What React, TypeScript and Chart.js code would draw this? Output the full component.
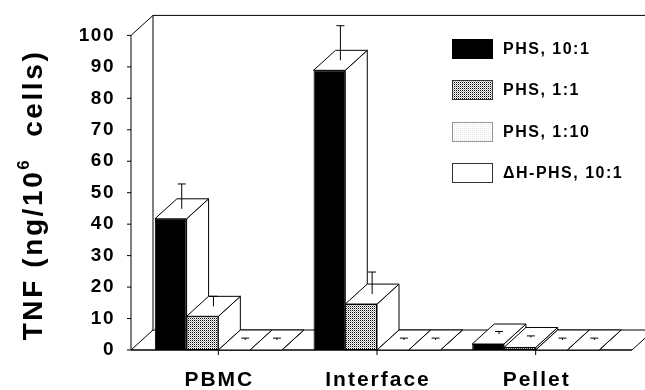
import React, { useEffect, useRef } from "react";
import { Chart, registerables } from "chart.js";

Chart.register(...registerables);

const categories = ["PBMC", "Interface", "Pellet"];
const seriesLabels = ["PHS, 10:1", "PHS, 1:1", "PHS, 1:10", "\u0394H-PHS, 10:1"];
const phs10to1 = [41.7, 88.9, 1.9];
const phs10to1Err = [7.9, 11, 0.8];
const phs1to1 = [10.7, 14.6, 0.8];
const phs1to1Err = [3.2, 7, 0.5];
const phs1to10 = [0, 0, 0];
const phs1to10Err = [0.6, 0.6, 0.6];
const dhPhs10to1 = [0, 0, 0];
const dhPhs10to1Err = [0.6, 0.6, 0.6];
const yTickValues = [0, 10, 20, 30, 40, 50, 60, 70, 80, 90, 100];
const yTitleParts = ["TNF (ng/10", "6", "  cells)"];

const FONT = '"Liberation Sans", Arial, Helvetica, sans-serif';
const DX = 22;
const DY = -20;

function makePattern(kind: "dense" | "light"): CanvasPattern | string {
  const c = document.createElement("canvas");
  c.width = 2;
  c.height = 2;
  const g = c.getContext("2d");
  if (!g) return "#888";
  g.fillStyle = "#fff";
  g.fillRect(0, 0, 2, 2);
  if (kind === "dense") {
    g.fillStyle = "#000";
    g.fillRect(0, 0, 1, 1);
    g.fillStyle = "#aaa";
    g.fillRect(1, 1, 1, 1);
  } else {
    g.fillStyle = "#e4e4e4";
    g.fillRect(0, 0, 1, 1);
  }
  const p = g.createPattern(c, "repeat");
  return p || "#888";
}

function seg(ctx: CanvasRenderingContext2D, x1: number, y1: number, x2: number, y2: number) {
  ctx.beginPath();
  ctx.moveTo(x1, y1);
  ctx.lineTo(x2, y2);
  ctx.stroke();
}

function poly(ctx: CanvasRenderingContext2D, pts: number[][]) {
  ctx.beginPath();
  ctx.moveTo(pts[0][0], pts[0][1]);
  for (let i = 1; i < pts.length; i++) ctx.lineTo(pts[i][0], pts[i][1]);
  ctx.closePath();
  ctx.fill();
  ctx.stroke();
}

export default function App() {
  const ref = useRef<HTMLCanvasElement | null>(null);

  useEffect(() => {
    if (!ref.current) return;
    const dense = makePattern("dense");
    const light = makePattern("light");
    const fills: any[] = ["#000", dense, light, "#fff"];
    const errors = [phs10to1Err, phs1to1Err, phs1to10Err, dhPhs10to1Err];

    const threeD = {
      id: "threeD",
      beforeDraw(chart: any) {
        chart.ctx.letterSpacing = "1.5px";
      },
      beforeDatasetsDraw(chart: any) {
        const { ctx, chartArea: ca } = chart;
        const y = chart.scales.y;
        const y0 = y.getPixelForValue(0);
        const yT = y.getPixelForValue(100);
        const ax = ca.left - 8;
        const fr = ca.right + 17;
        ctx.save();
        ctx.letterSpacing = "0px";
        ctx.strokeStyle = "#000";
        ctx.fillStyle = "#fff";
        ctx.lineWidth = 1;
        seg(ctx, ax + DX, y0 + DY, ax + DX, yT + DY);
        seg(ctx, ax + DX, yT + DY, chart.width, yT + DY);
        seg(ctx, ax, y0, ax, yT);
        seg(ctx, ax, yT, ax + DX, yT + DY);
        seg(ctx, ax, y0, ax + DX, y0 + DY);
        seg(ctx, ax + DX, y0 + DY, chart.width, y0 + DY);
        seg(ctx, fr, y0, fr + DX, y0 + DY);
        ctx.lineWidth = 1.6;
        seg(ctx, ax, y0, fr, y0);
        ctx.lineWidth = 1;
        y.ticks.forEach((t: any) => {
          const py = y.getPixelForValue(t.value);
          seg(ctx, ax - 4, py, ax, py);
        });
        const n = chart.data.datasets.length;
        for (let i = 0; i < categories.length; i++) {
          for (let d = 0; d < n; d++) {
            const el = chart.getDatasetMeta(d).data[i];
            const p = el.getProps(["x", "y", "base", "width"], true);
            const x0 = p.x - p.width / 2;
            const x1 = p.x + p.width / 2;
            ctx.fillStyle = "#fff";
            poly(ctx, [
              [x1, p.y],
              [x1 + DX, p.y + DY],
              [x1 + DX, p.base + DY],
              [x1, p.base],
            ]);
            poly(ctx, [
              [x0, p.y],
              [x1, p.y],
              [x1 + DX, p.y + DY],
              [x0 + DX, p.y + DY],
            ]);
          }
        }
        ctx.restore();
      },
      afterDatasetsDraw(chart: any) {
        const { ctx } = chart;
        const y = chart.scales.y;
        const x = chart.scales.x;
        const y0 = y.getPixelForValue(0);
        ctx.save();
        ctx.strokeStyle = "#000";
        ctx.lineWidth = 1;
        ctx.letterSpacing = "0px";
        chart.data.datasets.forEach((ds: any, d: number) => {
          const meta = chart.getDatasetMeta(d);
          meta.data.forEach((el: any, i: number) => {
            const p = el.getProps(["x", "y", "width"], true);
            const v = ds.data[i];
            const e = errors[d][i];
            const cx = p.x + DX / 2;
            const ys = p.y + DY / 2;
            const ye = y.getPixelForValue(v + e) + DY / 2;
            seg(ctx, cx, ys, cx, ye);
            seg(ctx, cx - 4, ye, cx + 4, ye);
          });
        });
        categories.forEach((_c, i) => {
          const px = x.getPixelForValue(i);
          seg(ctx, px, y0, px, y0 + 5);
        });
        ctx.fillStyle = "#000";
        ctx.font = `bold 21px ${FONT}`;
        ctx.letterSpacing = "2px";
        ctx.textAlign = "center";
        ctx.textBaseline = "middle";
        categories.forEach((c, i) => {
          const px = x.getPixelForValue(i);
          ctx.fillText(c, px + 1, 380);
        });
        ctx.font = `bold 16px ${FONT}`;
        ctx.letterSpacing = "1.5px";
        ctx.textAlign = "left";
        seriesLabels.forEach((lab, k) => {
          const cy = 48.5 + k * 41.3;
          const bx = 452.5;
          const by = Math.round(cy - 9.5) + 0.5;
          ctx.fillStyle = fills[k];
          ctx.fillRect(bx, by, 40, 19);
          ctx.setLineDash(k === 2 ? [1, 1] : []);
          ctx.strokeStyle = k === 0 ? "#000" : "#333";
          ctx.strokeRect(bx, by, 40, 19);
          ctx.setLineDash([]);
          ctx.fillStyle = "#000";
          ctx.fillText(lab, 503, cy + 1);
        });
        ctx.save();
        ctx.translate(33, 195);
        ctx.rotate(-Math.PI / 2);
        ctx.textAlign = "left";
        ctx.textBaseline = "middle";
        ctx.letterSpacing = "2.6px";
        const big = `bold 28px ${FONT}`;
        const small = `bold 17px ${FONT}`;
        ctx.font = big;
        const w1 = ctx.measureText(yTitleParts[0]).width;
        const w3 = ctx.measureText(yTitleParts[2]).width;
        ctx.font = small;
        const w2 = ctx.measureText(yTitleParts[1]).width;
        let sx = -(w1 + w2 + w3) / 2;
        ctx.font = big;
        ctx.fillText(yTitleParts[0], sx, 1);
        sx += w1;
        ctx.font = small;
        ctx.fillText(yTitleParts[1], sx, -9);
        sx += w2;
        ctx.font = big;
        ctx.fillText(yTitleParts[2], sx, 1);
        ctx.restore();
        ctx.restore();
      },
    };

    const chart = new Chart(ref.current, {
      type: "bar",
      data: {
        labels: categories,
        datasets: [
          { label: seriesLabels[0], data: phs10to1, backgroundColor: fills[0] },
          { label: seriesLabels[1], data: phs1to1, backgroundColor: fills[1] },
          { label: seriesLabels[2], data: phs1to10, backgroundColor: fills[2] },
          { label: seriesLabels[3], data: dhPhs10to1, backgroundColor: fills[3] },
        ].map((ds) => ({
          ...ds,
          borderColor: "#000",
          borderWidth: 1,
          borderSkipped: false,
          categoryPercentage: 0.8,
          barPercentage: 1.0,
        })),
      },
      options: {
        animation: false,
        responsive: true,
        maintainAspectRatio: false,
        layout: { padding: { left: 0, right: 30, top: 34, bottom: 40 } },
        plugins: {
          legend: { display: false },
          tooltip: { enabled: false },
          title: { display: false },
        },
        scales: {
          x: { display: false },
          y: {
            min: 0,
            max: 100,
            afterBuildTicks: (s: any) => {
              s.ticks = yTickValues.map((v) => ({ value: v }));
            },
            afterFit: (s: any) => {
              s.width = 139;
            },
            grid: { display: false, drawTicks: false },
            border: { display: false },
            ticks: {
              padding: 24,
              color: "#000",
              font: { family: FONT, size: 19, weight: "bold" },
            },
          },
        },
      },
      plugins: [threeD],
    });
    return () => chart.destroy();
  }, []);

  return (
    <div style={{ position: "absolute", left: 0, top: 0, width: 645, height: 390, background: "#fff" }}>
      <canvas ref={ref} />
    </div>
  );
}
